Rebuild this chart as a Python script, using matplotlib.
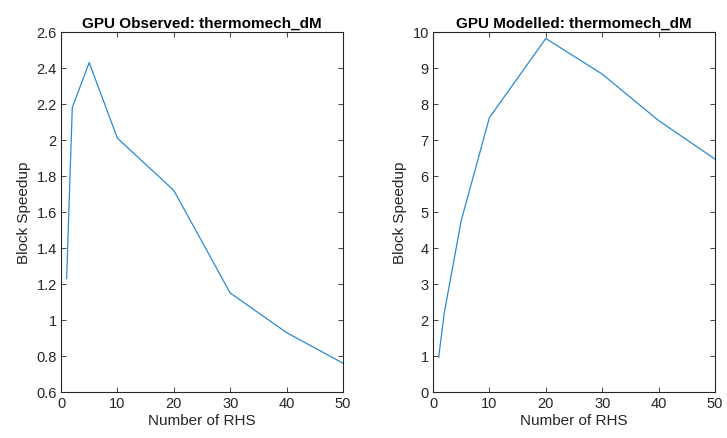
import matplotlib
matplotlib.use('Agg')
import matplotlib.pyplot as plt
from matplotlib.ticker import FormatStrFormatter

plt.rcParams['font.family'] = ['Liberation Sans', 'DejaVu Sans']

# number of right-hand sides
nrhs = [1, 2, 5, 10, 20, 30, 40, 50]

# block speedup, measured and modelled
observed = [1.23, 2.18, 2.43, 2.01, 1.72, 1.15, 0.93, 0.76]
modelled = [0.96, 2.2, 4.76, 7.62, 9.82, 8.83, 7.54, 6.47]

fig = plt.figure(figsize=(7.27, 4.39), dpi=100)
ax1 = fig.add_axes([61/727, 46/439, 282/727, 360/439])
ax2 = fig.add_axes([433/727, 46/439, 282/727, 360/439])

axcol = '#262626'
lincol = '#2b8ad0'


def matlab_style(ax):
    for s in ax.spines.values():
        s.set_color(axcol)
        s.set_linewidth(0.8)
    ax.tick_params(direction='in', top=True, right=True, length=3.5, width=0.6,
                   colors=axcol, labelsize=10.5, pad=3)
    ax.xaxis.set_major_formatter(FormatStrFormatter('%g'))
    ax.yaxis.set_major_formatter(FormatStrFormatter('%g'))


ax1.plot(nrhs, observed, color=lincol, lw=0.9)
ax1.set_xlim(0, 50)
ax1.set_ylim(0.6, 2.6)
ax1.set_xticks(range(0, 51, 10))
ax1.set_yticks([0.6, 0.8, 1.0, 1.2, 1.4, 1.6, 1.8, 2.0, 2.2, 2.4, 2.6])
matlab_style(ax1)
ax1.set_title('GPU Observed: thermomech_dM', fontsize=11, fontweight='bold', pad=4)
ax1.set_xlabel('Number of RHS', fontsize=11, color=axcol, labelpad=2)
ax1.set_ylabel('Block Speedup', fontsize=11, color=axcol, labelpad=4)

ax2.plot(nrhs, modelled, color=lincol, lw=0.9)
ax2.set_xlim(0, 50)
ax2.set_ylim(0, 10)
ax2.set_xticks(range(0, 51, 10))
ax2.set_yticks(range(0, 11))
matlab_style(ax2)
ax2.set_title('GPU Modelled: thermomech_dM', fontsize=11, fontweight='bold', pad=4)
ax2.set_xlabel('Number of RHS', fontsize=11, color=axcol, labelpad=2)
ax2.set_ylabel('Block Speedup', fontsize=11, color=axcol, labelpad=4)

fig.savefig('out.png', dpi=100)
